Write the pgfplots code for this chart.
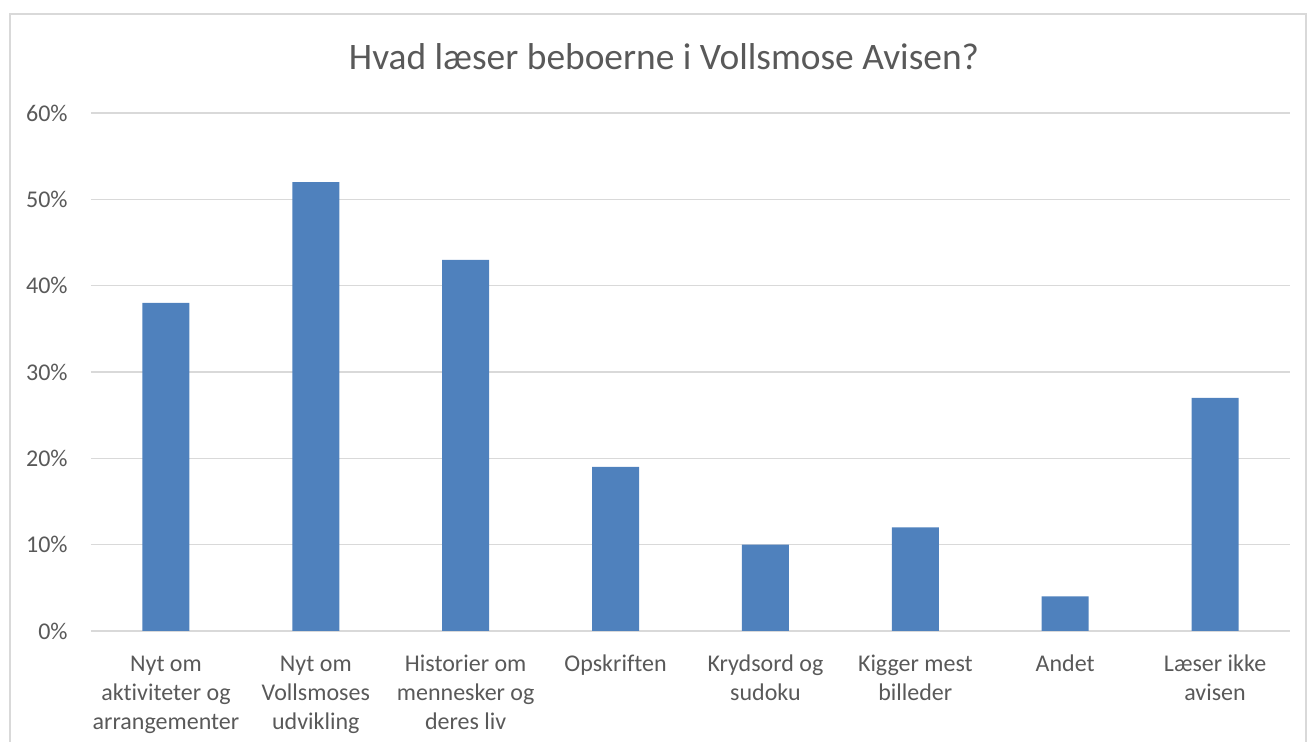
\documentclass[border=0pt]{standalone}
\usepackage{fontspec}
\setmainfont{Carlito}[Ligatures={NoCommon}]
\usepackage{pgfplots}
\pgfplotsset{compat=1.18}
\definecolor{barblue}{RGB}{79,129,189}
\definecolor{txtgray}{RGB}{89,89,89}
\definecolor{gridgray}{RGB}{217,217,217}

\begin{document}
\begin{tikzpicture}[x=1pt,y=1pt]
\useasboundingbox (0,0) rectangle (653.5,371);
\draw[gridgray, line width=0.6pt] (5,-10) -- (5,364) -- (653,364) -- (653,-10);
\node[anchor=base, text=txtgray, font=\fontsize{18.7}{22}\selectfont, inner sep=0pt]
  at (332,336) {Hvad læser beboerne i Vollsmose Avisen?};
\begin{axis}[at={(45.5pt,55.5pt)}, anchor=south west,
  width=599.5pt, height=259pt, scale only axis,
  xmin=-0.5, xmax=7.5, ymin=0, ymax=60,
  ybar, bar width=23.5pt,
  axis line style={draw=none}, major tick length=0pt,
  ymajorgrids, grid style={gridgray, line width=0.75pt},
  ytick={0,10,20,30,40,50,60},
  yticklabels={0\%,10\%,20\%,30\%,40\%,50\%,60\%},
  xtick={0,1,2,3,4,5,6,7},
  xticklabels={{\strut Nyt om\\aktiviteter og\\arrangementer},
    {\strut Nyt om\\Vollsmoses\\udvikling},
    {\strut Historier om\\mennesker og\\deres liv},
    {\strut Opskriften},
    {\strut Krydsord og\\sudoku},
    {\strut Kigger mest\\billeder},
    {\strut Andet},
    {\strut Læser ikke\\avisen}},
  ticklabel style={text=txtgray, font=\fontsize{12}{14.5}\selectfont},
  y tick label style={anchor=east, inner sep=0pt, xshift=-11.5pt},
  x tick label style={anchor=north, inner sep=0pt, yshift=-9.7pt, align=center},
]
\addplot[fill=barblue, draw=none] coordinates
  {(0,38)(1,52)(2,43)(3,19)(4,10)(5,12)(6,4)(7,27)};
\end{axis}
\end{tikzpicture}
\end{document}
